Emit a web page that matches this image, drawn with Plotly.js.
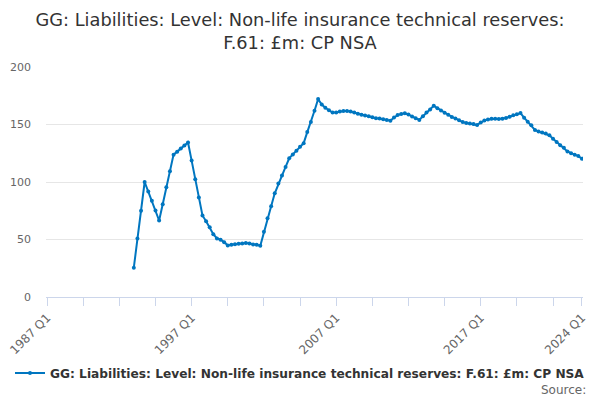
<!DOCTYPE html>
<html>
<head>
<meta charset="utf-8">
<script src="https://cdn.plot.ly/plotly-3.0.1.min.js"></script>
<style>
  html, body { margin: 0; padding: 0; background: #fff; }
  #chart { width: 600px; height: 400px; }
</style>
</head>
<body>
<div id="chart"></div>
<script>
// quarterly categories shown on the axis
const startYear = 1987;
const endLabel = '2024 Q1';
const firstDataQuarter = '1993 Q1';

// £m, 1993 Q1 .. 2024 Q1
const reserves = [
  25.5, 50.9, 74.9, 100.0, 91.7, 83.6, 75.2, 66.5, 80.7, 95.4,
  109.3, 123.8, 126.4, 129.2, 131.8, 134.4, 118.6, 102.3, 86.5, 70.9,
  65.9, 60.7, 54.6, 50.9, 49.8, 47.7,
  44.8, 45.5, 45.9, 46.3, 46.6, 47.0, 46.6, 45.7, 45.4, 44.6,
  56.7, 68.5, 78.9, 90.2, 98.6, 105.6, 113.1, 120.6, 124.0, 127.2,
  130.7, 133.8, 143.4, 152.2, 162.0, 172.1,
  167.4, 164.5, 162.5, 160.4, 160.4, 161.3, 161.7, 161.7, 161.2, 160.4,
  159.4, 158.4, 157.8, 157.2, 156.2, 155.4, 155.2, 154.6, 154.0, 153.3,
  156.0,
  158.2, 159.1, 159.8, 158.6, 157.0, 155.5, 154.0, 157.2, 160.5, 163.0,
  166.3, 164.2, 162.2, 160.3, 158.5, 156.6, 155.3, 153.7, 152.1, 151.3,
  150.8, 150.5, 149.5, 151.7, 153.4, 154.3,
  154.9, 155.0, 154.8, 155.0, 155.7, 156.7, 158.0, 159.0, 159.9, 155.9,
  152.3, 149.3, 145.3, 143.9, 143.0, 142.1, 140.6, 137.7, 134.8, 131.9,
  129.8, 126.6, 125.1, 123.8, 122.5, 120.3
];

const labelledTicks = ['1987 Q1', '1997 Q1', '2007 Q1', '2017 Q1', '2024 Q1'];

// build the quarter labels
const quarters = [];
for (let y = startYear; ; y++) {
  let done = false;
  for (let q = 1; q <= 4; q++) {
    const lab = y + ' Q' + q;
    quarters.push(lab);
    if (lab === endLabel) { done = true; break; }
  }
  if (done) break;
}

const offset = quarters.indexOf(firstDataQuarter);
const yValues = quarters.map((q, i) => (i >= offset ? reserves[i - offset] : null));

// tick marks every 10 quarters, plus the last one
const tickVals = quarters.filter((q, i) => i % 10 === 0);
tickVals.push(endLabel);
const tickText = tickVals.map(q => (labelledTicks.includes(q) ? q : ''));

const seriesName = 'GG: Liabilities: Level: Non-life insurance technical reserves: F.61: £m: CP NSA';

const trace = {
  x: quarters,
  y: yValues,
  name: seriesName,
  type: 'scatter',
  mode: 'lines+markers',
  line: { color: '#0076c0', width: 2 },
  marker: { color: '#0076c0', size: 4 },
  showlegend: true
};

const layout = {
  width: 600,
  height: 400,
  margin: { l: 46, r: 17, t: 67, b: 103 },
  paper_bgcolor: '#fff',
  plot_bgcolor: '#fff',
  font: { family: 'DejaVu Sans, sans-serif', color: '#666', size: 11 },
  title: {
    text: 'GG: Liabilities: Level: Non-life insurance technical reserves:<br>F.61: £m: CP NSA',
    font: { family: 'DejaVu Sans, sans-serif', size: 17.8, color: '#333' },
    x: 0.5,
    xref: 'container',
    y: 1 - 26 / 400,
    yref: 'container',
    yanchor: 'middle'
  },
  xaxis: {
    type: 'category',
    range: [-0.3, quarters.length - 1 + 0.3],
    tickvals: tickVals,
    ticktext: tickText,
    tickangle: -45,
    ticks: 'outside',
    ticklen: 8,
    tickcolor: '#ccd6eb',
    showline: true,
    linecolor: '#ccd6eb',
    linewidth: 1,
    showgrid: false,
    zeroline: false,
    tickfont: { size: 12, color: '#666' }
  },
  yaxis: {
    range: [0, 200],
    tickvals: [0, 50, 100, 150, 200],
    gridcolor: '#e6e6e6',
    zeroline: false,
    showline: false,
    ticklabelstandoff: 14,
    tickfont: { size: 11, color: '#666' }
  },
  legend: {
    orientation: 'h',
    x: 0.5,
    xanchor: 'center',
    xref: 'container',
    y: 27 / 400,
    yref: 'container',
    yanchor: 'middle',
    font: { family: 'DejaVu Sans, sans-serif', size: 12.2, color: '#333', weight: 'bold' }
  },
  annotations: [{
    text: 'Source:',
    xref: 'paper',
    yref: 'paper',
    x: 1.01,
    y: -0.405,
    xanchor: 'right',
    yanchor: 'middle',
    showarrow: false,
    font: { size: 12, color: '#666' }
  }]
};

Plotly.newPlot('chart', [trace], layout, { displayModeBar: false, staticPlot: true });
</script>
</body>
</html>
